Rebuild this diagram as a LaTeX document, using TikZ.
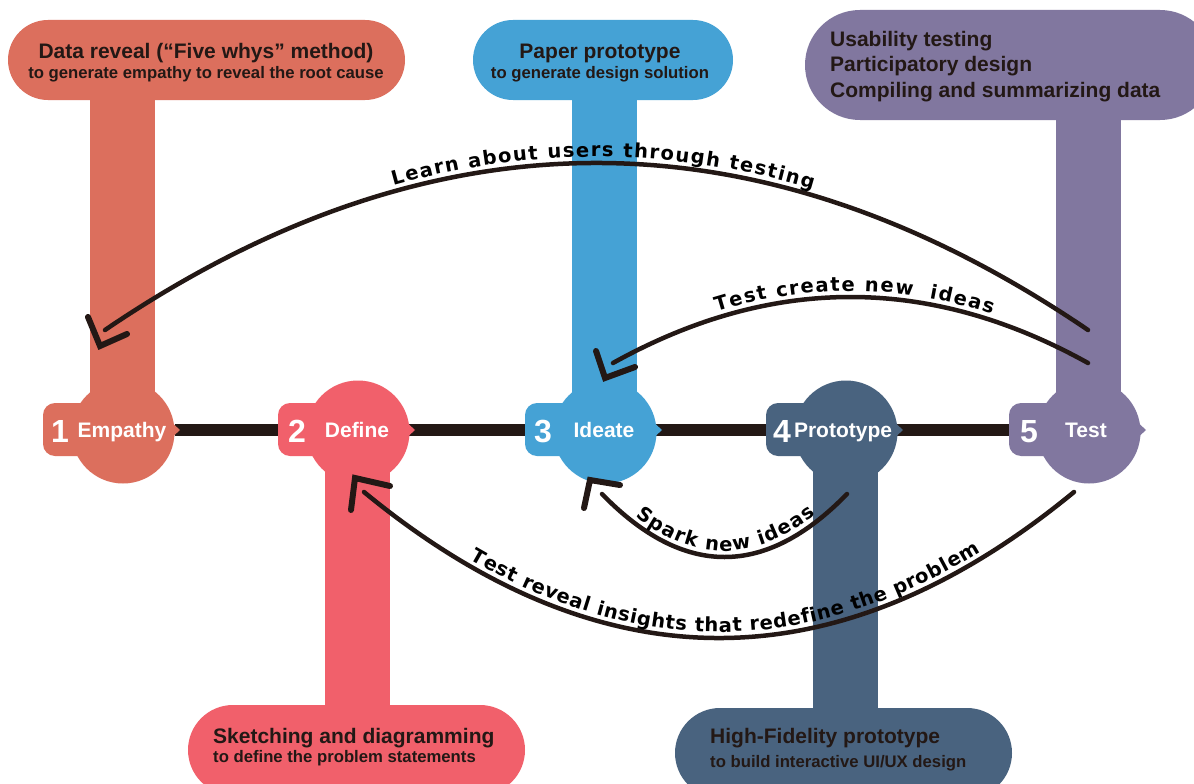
\documentclass[tikz,border=0pt]{standalone}
\usepackage{fontspec}
\setmainfont{Liberation Sans}
\newfontfamily\arcfont{DejaVu Sans}
\usetikzlibrary{decorations.text}
\definecolor{cEmp}{HTML}{DC6F5D}
\definecolor{cDef}{HTML}{F1606B}
\definecolor{cIde}{HTML}{45A2D5}
\definecolor{cPro}{HTML}{49637F}
\definecolor{cTst}{HTML}{81779F}
\definecolor{linec}{HTML}{231815}
\newcommand\arcfmt{\arcfont\bfseries\fontsize{19.5}{22}\selectfont\color{black}}
% #1 = centre x, #2 = colour, #3 = stem end y, #4 = node name
\newcommand\stageshape[4]{%
  \fill[#2] (#1-32.5,#3) rectangle (#1+32.5,-432);
  \fill[#2] (#1+1,-432) circle (51.5);
  \fill[#2, rounded corners=12pt] (#1-79,-403) rectangle (#1,-456);
  \fill[#2] (#1+46,-419) -- (#1+58,-430) -- (#1+46,-441) -- cycle;
  \coordinate (#4) at (#1,-432);
}
\begin{document}
\begin{tikzpicture}[x=1pt,y=1pt,
  boxtxt/.style={inner sep=0pt, text=linec, font=\bfseries\fontsize{21}{25}\selectfont},
  subtxt/.style={inner sep=0pt, text=linec, font=\bfseries\fontsize{16.7}{20}\selectfont},
  numtxt/.style={inner sep=0pt, text=white, font=\bfseries\fontsize{32}{36}\selectfont, anchor=base},
  labtxt/.style={inner sep=0pt, text=white, font=\bfseries\fontsize{21}{25}\selectfont, anchor=base},
  arcline/.style={draw=linec, line width=4.5pt, line cap=round},
  chevron/.style={draw=linec, line width=6pt, line cap=round, line join=miter},
  mainline/.style={draw=linec, line width=12pt},
]
\useasboundingbox (0,0) rectangle (1194,-784);
\fill[white] (0,0) rectangle (1194,-784);

% main time line
\coordinate (l1) at (175,-430);
\coordinate (l5) at (1015,-430);
\draw[mainline] (l1) -- (l5);

% stages with stems
\stageshape{122}{cEmp}{-90}{n1}
\stageshape{357}{cDef}{-715}{n2}
\stageshape{604}{cIde}{-90}{n3}
\stageshape{845}{cPro}{-718}{n4}
\stageshape{1088}{cTst}{-110}{n5}

% boxes
\fill[cEmp, rounded corners=40pt] (8,-20) rectangle (405,-100);
\fill[cIde, rounded corners=40pt] (473,-20) rectangle (733,-100);
\fill[cTst, rounded corners=55pt] (805,-10) rectangle (1215,-120);
\fill[cDef, rounded corners=45pt] (188,-705) rectangle (525,-795);
\fill[cPro, rounded corners=45pt] (675,-708) rectangle (1012,-798);

% box texts
\node[boxtxt, anchor=base] (t1a) at (206,-59) {Data reveal (“Five whys” method)};
\node[subtxt, anchor=base] (t1b) at (206,-78) {to generate empathy to reveal the root cause};
\node[boxtxt, anchor=base] (t3a) at (600,-59) {Paper prototype};
\node[subtxt, anchor=base] (t3b) at (600,-78) {to generate design solution};
\node[boxtxt, anchor=base west] (t5a) at (830,-47) {Usability testing};
\node[boxtxt, anchor=base west] (t5b) at (830,-72) {Participatory design};
\node[boxtxt, anchor=base west] (t5c) at (830,-97) {Compiling and summarizing data};
\node[boxtxt, anchor=base west] (t2a) at (213,-743) {Sketching and diagramming};
\node[subtxt, anchor=base west] (t2b) at (213,-762) {to define the problem statements};
\node[boxtxt, anchor=base west] (t4a) at (710,-743) {High-Fidelity prototype};
\node[subtxt, anchor=base west] (t4b) at (710,-767) {to build interactive UI/UX design};

% stage labels
\node[numtxt] (d1) at (60,-442) {1};
\node[labtxt] (s1) at (122,-437) {Empathy};
\node[numtxt] (d2) at (297,-442) {2};
\node[labtxt] (s2) at (357,-437) {Define};
\node[numtxt] (d3) at (543,-442) {3};
\node[labtxt] (s3) at (604,-437) {Ideate};
\node[numtxt] (d4) at (782,-442) {4};
\node[labtxt] (s4) at (843,-437) {Prototype};
\node[numtxt] (d5) at (1029,-442) {5};
\node[labtxt] (s5) at (1086,-437) {Test};

% arc A: Test -> Empathy
\coordinate (aS) at (1088,-330);
\coordinate (aE) at (105,-330);
\draw[arcline] (aS) .. controls (760.3,-107.3) and (432.7,-107.3) .. (aE);
\draw[chevron] (88,-317) -- (100,-346) -- (127,-334);
\path[decorate, decoration={text along path, text={|\arcfmt|Learn about users through testing},
  text align={fit to path, left indent=323pt, right indent=310pt}, raise=6pt}]
  (aE) .. controls (432.7,-107.3) and (760.3,-107.3) .. (aS);

% arc B: Test -> Ideate
\coordinate (bS) at (1088,-363);
\coordinate (bE) at (613,-363);
\draw[arcline] (bS) .. controls (929.7,-275) and (771.3,-275) .. (bE);
\draw[chevron] (596,-351) -- (605,-378) -- (635,-367);
\path[decorate, decoration={text along path, text={|\arcfmt|Test create new{\ \ }ideas},
  text align={fit to path, left indent=115pt, right indent=107pt}, raise=6pt}]
  (bE) .. controls (771.3,-275) and (929.7,-275) .. (bS);

% arc C: Prototype -> Ideate
\coordinate (cS) at (847,-494);
\coordinate (cE) at (602,-494);
\draw[arcline] (cS) .. controls (765.3,-578) and (683.7,-578) .. (cE);
\draw[chevron] (620,-485) -- (590,-480) -- (584,-508);
\path[decorate, decoration={text along path, text={|\arcfmt|Spark new ideas},
  text align={fit to path, left indent=40pt, right indent=38pt}, raise=6pt}]
  (cE) .. controls (683.7,-578) and (765.3,-578) .. (cS);

% arc D: Test -> Define
\coordinate (dS) at (1074,-492);
\coordinate (dE) at (364,-492);
\draw[arcline] (dS) .. controls (837.3,-686.7) and (600.7,-686.7) .. (dE);
\draw[chevron] (390,-486) -- (355,-478) -- (351,-510);
\path[decorate, decoration={text along path, text={|\arcfmt|Test reveal insights that redefine the problem},
  text align={fit to path, left indent=126pt, right indent=112pt}, raise=6pt}]
  (dE) .. controls (600.7,-686.7) and (837.3,-686.7) .. (dS);
\end{tikzpicture}
\end{document}
